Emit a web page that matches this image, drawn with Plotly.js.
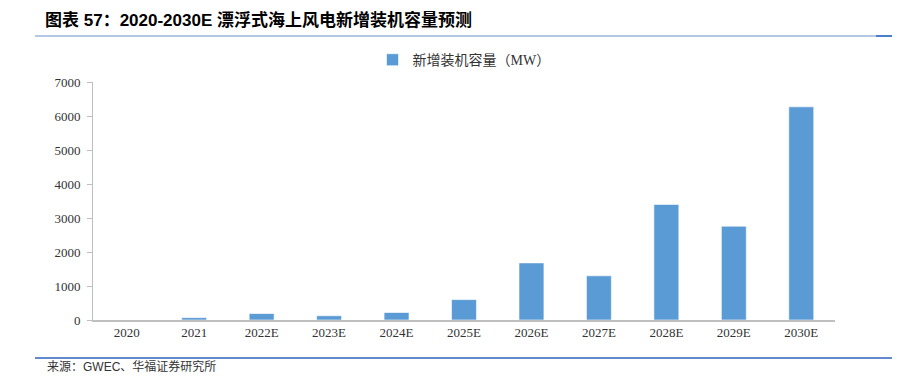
<!DOCTYPE html>
<html>
<head>
<meta charset="utf-8">
<script src="https://cdn.plot.ly/plotly-3.0.1.min.js"></script>
<style>html,body{margin:0;padding:0;background:#fff;}#chart{width:909px;height:385px;}</style>
</head>
<body>
<div id="chart"></div>
<script>
const categories = ["2020","2021","2022E","2023E","2024E","2025E","2026E","2027E","2028E","2029E","2030E"];
const capacityMW = [0, 70, 190, 125, 220, 600, 1680, 1300, 3400, 2760, 6270];
const seriesName = "新增装机容量（MW）";
const yTicks = [0,1000,2000,3000,4000,5000,6000,7000];

const trace = {
  type: "bar",
  x: categories,
  y: capacityMW,
  name: seriesName,
  marker: {color: "#5B9BD5", line: {color: "rgba(255,255,255,0.6)", width: 1}},
  hoverinfo: "x+y"
};

const layout = {
  width: 909, height: 385,
  margin: {l: 93, r: 74, t: 82, b: 65},
  paper_bgcolor: "#fff", plot_bgcolor: "#fff",
  bargap: 0.63,
  showlegend: true,
  legend: {orientation: "h", x: 0.5, xanchor: "center", y: 1.092, yanchor: "middle",
           font: {family: "Liberation Serif, Noto Sans CJK SC", size: 14, color: "#333"},
           itemwidth: 30},
  title: {text: "图表 57：2020-2030E 漂浮式海上风电新增装机容量预测",
          x: 45/909, xanchor: "left", xref: "container",
          y: 1 - 20/385, yanchor: "middle", yref: "container",
          font: {family: "Liberation Sans, Noto Sans CJK SC", size: 17, color: "#000", weight: "bold"}},
  xaxis: {type: "category", showgrid: false, showline: true, linecolor: "#bfbfbf", linewidth: 1.5,
          ticks: "", tickfont: {family: "Liberation Serif", size: 13, color: "#333"},
          zeroline: false, fixedrange: true},
  yaxis: {range: [0, 7000], tickvals: yTicks, ticktext: yTicks.map(String),
          showgrid: false, showline: true, linecolor: "#bfbfbf", linewidth: 1,
          ticks: "outside", ticklen: 5, tickcolor: "#bfbfbf", ticklabelstandoff: 4,
          tickfont: {family: "Liberation Serif", size: 13, color: "#333"},
          zeroline: false, fixedrange: true},
  shapes: [
    {type: "line", xref: "paper", yref: "paper", x0: (35-93)/742, x1: (876-93)/742,
     y0: (320-36)/238, y1: (320-36)/238, line: {color: "#b4c7e7", width: 2}},
    {type: "line", xref: "paper", yref: "paper", x0: (876-93)/742, x1: (892-93)/742,
     y0: (320-36)/238, y1: (320-36)/238, line: {color: "#4a7fc9", width: 2}},
    {type: "line", xref: "paper", yref: "paper", x0: (35-93)/742, x1: (892-93)/742,
     y0: (320-358)/238, y1: (320-358)/238, line: {color: "#2f62bd", width: 1.5}}
  ],
  annotations: [
    {text: "来源：GWEC、华福证券研究所", xref: "paper", yref: "paper",
     x: (45-93)/742, xanchor: "left", y: (320-366)/238, yanchor: "middle", showarrow: false,
     font: {family: "Liberation Sans, Noto Sans CJK SC", size: 12, color: "#333"}}
  ]
};

Plotly.newPlot("chart", [trace], layout, {displayModeBar: false, staticPlot: true});
</script>
</body>
</html>
